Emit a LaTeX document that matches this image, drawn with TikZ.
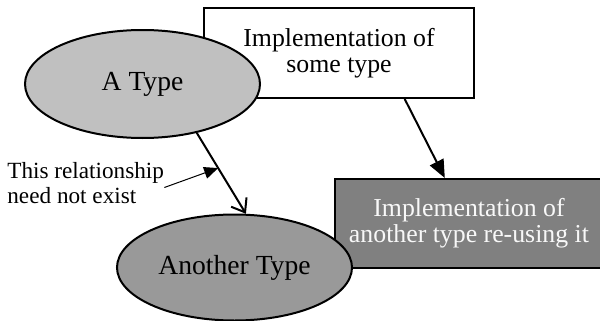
\documentclass[tikz,border=0pt]{standalone}
\usepackage{fontspec}
\setmainfont{Liberation Serif}
\usepackage{tikz}
\usetikzlibrary{shapes.geometric, arrows.meta}
\definecolor{typegray}{HTML}{C0C0C0}
\definecolor{othergray}{HTML}{999999}
\definecolor{implgray}{HTML}{808080}
\definecolor{implwhite}{HTML}{F8F8F8}

\begin{document}
\begin{tikzpicture}[x=0.5pt, y=-0.5pt, font=\fontsize{12.9}{13}\selectfont,
    typenode/.style={ellipse, draw, line width=1pt, minimum width=117.5pt, minimum height=54pt,
      font=\fontsize{13.8}{14}\selectfont},
    implnode/.style={rectangle, draw, line width=1pt, minimum width=135pt, minimum height=45pt, align=center}]
  \useasboundingbox (0,0) rectangle (600,321);
  \node[implnode, fill=white] (impl) at (339,53) {Implementation of\\some type};
  \node[implnode, fill=implgray, text=implwhite, minimum width=134pt, minimum height=44.5pt] (reuse) at (469,223.5)
    {Implementation of\\another type re-using it};
  \node[typenode, fill=typegray] (atype) at (142.5,84) {A Type};
  \node[typenode, fill=othergray, minimum height=53pt] (another) at (234.5,267.5) {Another Type};
  \node[anchor=west, align=left, inner sep=0pt, font=\fontsize{11.6}{12.5}\selectfont] (note) at (7,183.5)
    {This relationship\\need not exist};
  \draw[-{Straight Barb[length=6pt, width=9pt]}, line width=1pt] (atype.-42) -- coordinate[pos=0.435] (relpt) (another.78);
  \draw[-{Triangle[length=9pt, width=7.5pt]}, line width=1pt] (impl.-35.5) -- (reuse.118.3);
  \draw[-{Triangle[length=7pt, width=6pt]}, line width=0.5pt] ([yshift=-2pt]note.east) -- (relpt);
\end{tikzpicture}
\end{document}
